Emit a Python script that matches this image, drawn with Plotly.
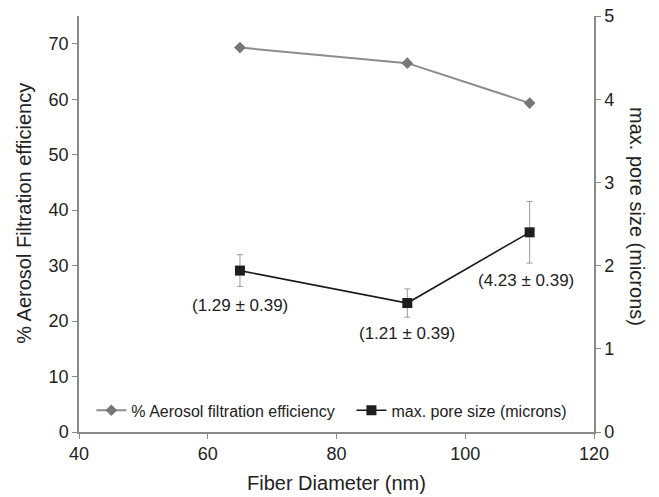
import plotly.graph_objects as go

# Fiber diameter (nm) for the three samples
fiber_diameter = [65, 91, 110]

# % aerosol filtration efficiency (left axis)
filtration_eff = [69.3, 66.5, 59.3]

# maximum pore size in microns (right axis) with error bars
pore_size = [1.94, 1.55, 2.40]
pore_err = [0.19, 0.17, 0.37]

# point labels placed beside the pore-size markers
pore_labels = ["(1.29 \u00b1 0.39)", "(1.21 \u00b1 0.39)", "(4.23 \u00b1 0.39)"]
label_offsets = [(0, -0.42), (0, -0.37), (-0.6, -0.58)]

x_ticks = [40, 60, 80, 100, 120]
left_ticks = [0, 10, 20, 30, 40, 50, 60, 70]
right_ticks = [0, 1, 2, 3, 4, 5]

FONT = "Liberation Sans, Arial, sans-serif"
AXIS_GREY = "#8a8a8a"
TEXT = "#222222"

fig = go.Figure()

fig.add_trace(go.Scatter(
    x=fiber_diameter, y=filtration_eff,
    mode="lines+markers",
    name="% Aerosol filtration efficiency",
    line=dict(color="#8c8c8c", width=2),
    marker=dict(symbol="diamond", size=9, color="#777777"),
    yaxis="y", legend="legend",
))

fig.add_trace(go.Scatter(
    x=fiber_diameter, y=pore_size,
    mode="lines+markers",
    name="max. pore size (microns)",
    line=dict(color="#1a1a1a", width=1.6),
    marker=dict(symbol="square", size=10, color="#1e1e1e"),
    error_y=dict(type="data", array=pore_err, visible=True,
                 color="#9a9a9a", thickness=1, width=3),
    yaxis="y2", legend="legend2",
))

annotations = []
for xv, yv, txt, (dx, dy) in zip(fiber_diameter, pore_size, pore_labels, label_offsets):
    annotations.append(dict(
        x=xv + dx, y=yv + dy, xref="x", yref="y2", text=txt,
        showarrow=False, font=dict(family=FONT, size=17, color=TEXT),
    ))

# axis titles
annotations.append(dict(
    x=-0.107, y=0.527, xref="paper", yref="paper", xanchor="center", yanchor="middle",
    text="% Aerosol Filtration efficiency", textangle=-90,
    showarrow=False, font=dict(family=FONT, size=20, color=TEXT),
))
annotations.append(dict(
    x=1.0845, y=0.518, xref="paper", yref="paper", xanchor="center", yanchor="middle",
    text="max. pore size (microns)", textangle=90,
    showarrow=False, font=dict(family=FONT, size=20, color=TEXT),
))
annotations.append(dict(
    x=0.5, y=-0.123, xref="paper", yref="paper", xanchor="center", yanchor="middle",
    text="Fiber Diameter (nm)",
    showarrow=False, font=dict(family=FONT, size=20, color=TEXT),
))

legend_style = dict(
    orientation="h", yanchor="middle", xanchor="left", y=0.052,
    font=dict(family=FONT, size=16, color=TEXT),
    bgcolor="rgba(0,0,0,0)", itemwidth=30,
)

axis_style = dict(
    showgrid=False, zeroline=False, automargin=False,
    showline=True, linecolor=AXIS_GREY, linewidth=1.5,
    ticks="outside", ticklen=5, tickcolor=AXIS_GREY,
)

fig.update_layout(
    width=659, height=497,
    margin=dict(l=79, r=65, t=16, b=65),
    paper_bgcolor="white", plot_bgcolor="white",
    font=dict(family=FONT, size=18, color=TEXT),
    showlegend=True,
    legend=dict(x=0.024, **legend_style),
    legend2=dict(x=0.529, **legend_style),
    xaxis=dict(range=[40, 120], tickvals=x_ticks, **axis_style),
    yaxis=dict(range=[0, 75], tickvals=left_ticks, **axis_style),
    yaxis2=dict(range=[0, 5], tickvals=right_ticks, overlaying="y", side="right",
                **axis_style),
    annotations=annotations,
)

fig.write_html("out.html")
